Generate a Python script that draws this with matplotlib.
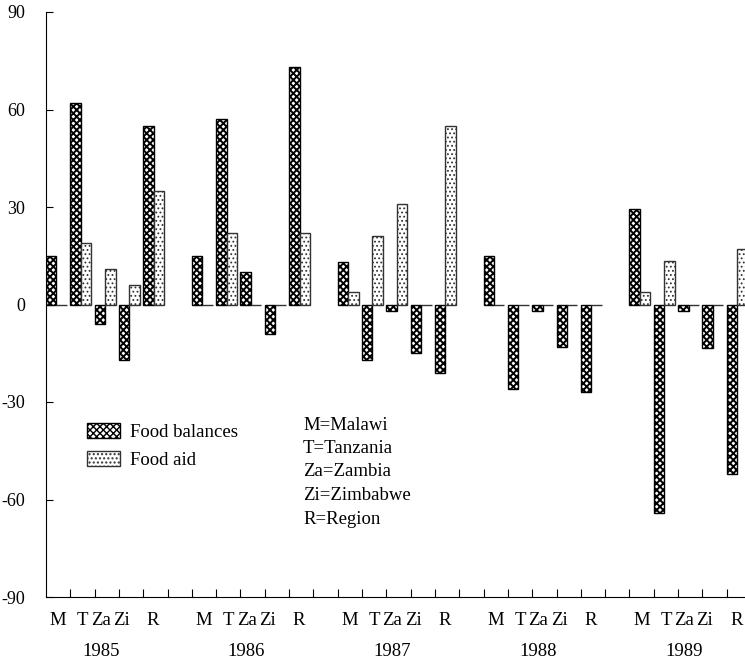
import numpy as np
import matplotlib
matplotlib.use("Agg")
import matplotlib.pyplot as plt

plt.rcParams['font.family'] = ['Liberation Serif', 'DejaVu Serif']

years = ["1985", "1986", "1987", "1988", "1989"]
countries = ["M", "T", "Za", "Zi", "R"]
balances = [
    [15, 62, -6, -17, 55],
    [15, 57, 10, -9, 73],
    [13, -17, -2, -15, -21],
    [15, -26, -2, -13, -27],
    [29.5, -64, -2, -13.5, -52],
]
aid = [
    [0, 19, 11, 6, 35],
    [0, 22, 0, 0, 22],
    [4, 21, 31, 0, 55],
    [0, 0, 0, 0, 0],
    [4, 13.5, 0, 0, 17],
]
key_lines = ["M=Malawi", "T=Tanzania", "Za=Zambia", "Zi=Zimbabwe", "R=Region"]

W, H = 745, 664
fig = plt.figure(figsize=(W / 100, H / 100), dpi=100)
ax = fig.add_axes([46 / W, 67 / H, 705 / W, 585 / H])

# one slot per country, one empty slot between years
slot = np.array([g * 6 + k for g in range(len(years)) for k in range(len(countries))])
bw = 0.43
with plt.rc_context({'hatch.linewidth': 1.4}):
    fb = ax.bar(slot - 0.5 + bw / 2, np.ravel(balances), bw, facecolor='white',
                edgecolor='black', hatch='xxxxx', linewidth=1.0, label="Food balances")
with plt.rc_context({'hatch.linewidth': 0.8}):
    fa = ax.bar(slot - 0.5 + bw * 1.5, np.ravel(aid), bw, facecolor='white',
                edgecolor='#333333', hatch='....', linewidth=1.0, label="Food aid")

ax.set_xlim(-0.5, 28.5)
ax.set_ylim(-90, 90)
ax.set_yticks([90, 60, 30, 0, -30, -60, -90])
ax.set_yticklabels(["90", "60", "30", "0", "-30", "-60", "-90"], fontsize=13)
ax.set_xticks(np.arange(0.5, 28, 1))
ax.set_xticklabels([])
ax.tick_params(axis='y', direction='in', length=5, pad=15)
ax.tick_params(axis='x', direction='in', length=6)
for s in ['top', 'right']:
    ax.spines[s].set_visible(False)

# category labels under each year group
lab_off = [0, 1.0, 1.75, 2.6, 3.9]
for g, yr in enumerate(years):
    for k, c in enumerate(countries):
        ax.text(g * 6 + lab_off[k], -0.04, c, transform=ax.get_xaxis_transform(),
                ha='center', va='center', fontsize=13.5)
    ax.text(g * 6 + 1.75, -0.094, yr, transform=ax.get_xaxis_transform(),
            ha='center', va='center', fontsize=13.5)

ax.legend(handles=[fb, fa], loc='center left', bbox_to_anchor=(87 / W, 1 - 446 / H),
          bbox_transform=fig.transFigure, frameon=False, fontsize=13.5,
          handlelength=1.75, handleheight=0.8, handletextpad=0.55,
          labelspacing=0.55, borderpad=0, borderaxespad=0)

for i, t in enumerate(key_lines):
    fig.text(303 / W, 1 - (425 + 23.5 * i) / H, t, ha='left', va='center', fontsize=13.5)

fig.savefig("out.png", dpi=100)
